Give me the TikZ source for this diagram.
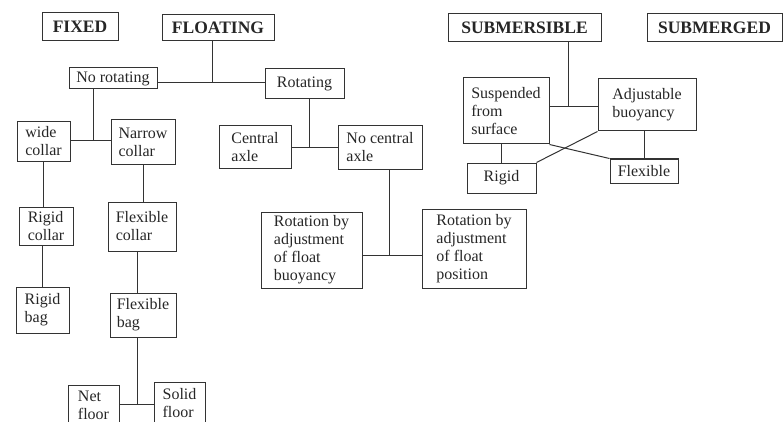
\documentclass[tikz,border=0pt]{standalone}
\usepackage{fontspec}
\setmainfont{Liberation Serif}
\usepackage{tikz}

\begin{document}
\begin{tikzpicture}[x=1pt, y=-1pt, line width=1pt, draw=black!80,
  box/.style={draw, align=left, inner sep=2pt, text=black!85, font=\fontsize{16}{18}\selectfont},
  head/.style={draw, inner sep=2pt, text=black!85, font=\fontsize{17.5}{20}\selectfont\bfseries}]
\useasboundingbox (0,0) rectangle (783,422);
\clip (0,0) rectangle (783,422);

\node[head, minimum width=76, minimum height=28] (fixed) at (80,27) {FIXED};
\node[head, minimum width=112, minimum height=26] (floating) at (218,28) {FLOATING};
\node[head, minimum width=153, minimum height=28] (submersible) at (524.5,28) {SUBMERSIBLE};
\node[head, minimum width=135, minimum height=28] (submerged) at (714.5,28) {SUBMERGED};

\node[box, minimum width=88, minimum height=21] (norot) at (113,78.5) {No rotating};
\node[box, minimum width=79, minimum height=30] (rot) at (304.5,84) {Rotating};
\node[box, minimum width=53, minimum height=39] (wide) at (43.5,141.5) {wide\\collar};
\node[box, minimum width=64, minimum height=44] (narrow) at (143,142) {Narrow\\collar};
\node[box, minimum width=54, minimum height=38] (rcollar) at (46,226) {Rigid\\collar};
\node[box, minimum width=68, minimum height=49] (fcollar) at (142,226.5) {Flexible\\collar};
\node[box, minimum width=53, minimum height=46] (rbag) at (42.5,310) {Rigid\\bag};
\node[box, minimum width=66, minimum height=44] (fbag) at (143,315) {Flexible\\bag};
\node[box, minimum width=51, minimum height=40] (net) at (93.5,405) {Net\\floor};
\node[box, minimum width=51, minimum height=43] (solid) at (179.5,403.5) {Solid\\floor};

\node[box, minimum width=72, minimum height=42] (caxle) at (255,147) {Central\\axle};
\node[box, minimum width=84, minimum height=43] (ncaxle) at (380,147.5) {No central\\axle};
\node[box, minimum width=101, minimum height=76] (rbuoy) at (311.5,250) {Rotation by\\adjustment\\of float\\buoyancy};
\node[box, minimum width=104, minimum height=79] (rpos) at (474,248.5) {Rotation by\\adjustment\\of float\\position};

\node[box, minimum width=86, minimum height=66] (susp) at (506,111) {Suspended\\from\\surface};
\node[box, minimum width=98, minimum height=52] (adj) at (647,105) {Adjustable\\buoyancy};
\node[box, minimum width=69, minimum height=30] (srigid) at (501.5,178) {Rigid};
\node[box, minimum width=68, minimum height=24] (sflex) at (644,171) {Flexible};

\coordinate (jfl) at (212,83);
\coordinate (jnr) at (93,141);
\coordinate (jfb) at (137,404);
\coordinate (jrot) at (309,148);
\coordinate (jnc) at (389,255);
\coordinate (jsub) at (568,107);

\draw (jfl |- floating.south) -- (jfl);
\draw (norot.east |- jfl) -- (rot.west |- jfl);
\draw (jnr |- norot.south) -- (jnr);
\draw (wide.east |- jnr) -- (narrow.west |- jnr);
\draw (wide.south) -- (wide.south |- rcollar.north);
\draw (rbag.north |- rcollar.south) -- (rbag.north);
\draw (narrow.south) -- (narrow.south |- fcollar.north);
\draw (jfb |- fcollar.south) -- (jfb |- fbag.north);
\draw (jfb |- fbag.south) -- (jfb);
\draw (net.east |- jfb) -- (solid.west |- jfb);

\draw (jrot |- rot.south) -- (jrot);
\draw (caxle.east |- jrot) -- (ncaxle.west |- jrot);
\draw (jnc |- ncaxle.south) -- (jnc);
\draw (rbuoy.east |- jnc) -- (rpos.west |- jnc);

\draw (jsub |- submersible.south) -- (jsub);
\draw (susp.east |- jsub) -- (adj.west |- jsub);
\draw (srigid.north |- susp.south) -- (srigid.north);
\draw (sflex.north |- adj.south) -- (sflex.north);
\draw (susp.south east) -- (sflex.north west);
\draw (srigid.north east) -- (adj.south west);
\end{tikzpicture}
\end{document}
